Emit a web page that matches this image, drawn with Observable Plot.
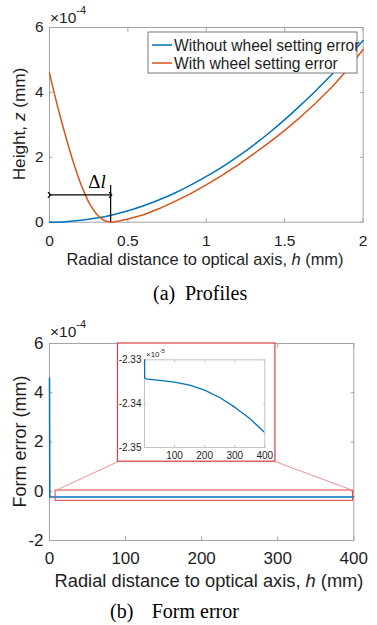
<!DOCTYPE html>
<html>
<head>
<meta charset="utf-8">
<script src="https://cdn.jsdelivr.net/npm/d3@7"></script>
<script src="https://cdn.jsdelivr.net/npm/@observablehq/plot@0.6"></script>
<style>
html,body{margin:0;padding:0;background:#fff;}
#root{position:relative;width:377px;height:625px;overflow:hidden;background:#fff;}
.box{position:absolute;}
.box svg{display:block;}
</style>
</head>
<body>
<div id="root"></div>
<script>
// ---------------- DATA ----------------
// (a) Profiles — height z in units of 1e-4 mm vs radial distance h (mm)
const profileH = [0,0.1,0.2,0.3,0.4,0.5,0.6,0.7,0.8,0.9,1.0,1.1,1.2,1.3,1.4,1.5,1.6,1.7,1.8,1.9,2.0];
const withoutZ = [0,0.015,0.057,0.127,0.225,0.35,0.505,0.69,0.9,1.14,1.41,1.7,2.02,2.37,2.75,3.16,3.6,4.06,4.55,5.06,5.6];
const withH = [0,0.025,0.05,0.075,0.1,0.125,0.15,0.175,0.2,0.225,0.25,0.275,0.3,0.325,0.35,0.375,0.4,0.45,0.5,0.6,0.7,0.8,0.9,1.0,1.1,1.2,1.3,1.4,1.5,1.6,1.7,1.8,1.9,2.0];
const withZ = [4.6,4.08,3.6,3.14,2.7,2.28,1.88,1.51,1.17,0.88,0.62,0.42,0.25,0.13,0.05,0.012,0,0.045,0.1,0.23,0.42,0.64,0.88,1.15,1.44,1.76,2.1,2.45,2.83,3.24,3.68,4.16,4.7,5.32];
const profileXTicks = [0,0.5,1,1.5,2];
const profileYTicks = [0,2,4,6];
const legendLabels = ["Without wheel setting error","With wheel setting error"];
// Δl annotation (data units of panel a)
const deltaL = 0.39;
const deltaArrowZ = 0.84;
const deltaLineTop = 1.13;
const deltaTextPos = [0.25, 1.05];

// (b) Form error — in units of 1e-5 mm vs h (mm)
const formH   = [0, 0.4, 3, 10, 50, 100, 150, 200, 250, 300, 350, 400];
const formErr = [46, -2.3341, -2.3343, -2.3344, -2.3347, -2.3351, -2.3358, -2.3369, -2.3386, -2.3408, -2.3434, -2.3466];
const formXTicks = [0,100,200,300,400];
const formYTicks = [-2,0,2,4,6];
const insetXTicks = [100,200,300,400];
const insetYTicks = [-2.35,-2.34,-2.33];
// zoom rectangle and inset box, in panel-b units (h mm, error 1e-4 mm)
const zoomBox  = {x1: 8,  x2: 399, y1: -0.39, y2: 0.03};
const insetBox = {x1: 90, x2: 297, y1: 1.2,   y2: 6};

const captions = [["(a)","Profiles"],["(b)","Form error"]];

// ---------------- STYLE ----------------
const blue = "#0072BD", orange = "#D95319";
const gray = "#a3a3a3", ink = "#1e1e1e";
const redBox = "#e03c3c", redLink = "#ee8f8f";
const sans = "'Liberation Sans', Arial, Helvetica, sans-serif";
const serif = "'Liberation Serif', 'Times New Roman', serif";

function boxAxes({xt, yt, fmtX, fmtY, fs, padX, padY, tick = 3.5, stroke = gray}) {
  const t = {tickSize: -tick, tickFormat: () => "", label: null, stroke};
  return [
    Plot.frame({stroke}),
    Plot.axisX({...t, ticks: xt, anchor: "bottom"}),
    Plot.axisX({...t, ticks: xt, anchor: "top"}),
    Plot.axisY({...t, ticks: yt, anchor: "left"}),
    Plot.axisY({...t, ticks: yt, anchor: "right"}),
    Plot.axisX({ticks: xt, anchor: "bottom", tickSize: 0, tickPadding: padX, tickFormat: fmtX, label: null, fontSize: fs, fill: ink}),
    Plot.axisY({ticks: yt, anchor: "left", tickSize: 0, tickPadding: padY, tickFormat: fmtY, label: null, fontSize: fs, fill: ink})
  ];
}

const root = document.getElementById("root");
function place(node, left, top) {
  const d = document.createElement("div");
  d.className = "box";
  d.style.left = left + "px";
  d.style.top = top + "px";
  d.appendChild(node);
  root.appendChild(d);
  return node;
}

// ---------------- (a) Profiles ----------------
const plotA = Plot.plot({
  width: 377, height: 270,
  marginLeft: 49, marginRight: 14.4, marginTop: 27, marginBottom: 48.3,
  x: {domain: [0, 2]},
  y: {domain: [0, 6]},
  style: {fontFamily: sans, fontSize: "15.5px", color: ink, background: "transparent", overflow: "visible"},
  marks: [
    ...boxAxes({xt: profileXTicks, yt: profileYTicks, fmtX: d => String(d), fmtY: d => String(d), fs: 15.5, padX: 12.5, padY: 6}),
    Plot.line(profileH, {x: profileH, y: withoutZ, stroke: blue, strokeWidth: 1.5, curve: "monotone-x"}),
    Plot.line(withH, {x: withH, y: withZ, stroke: orange, strokeWidth: 1.5, curve: "linear"}),
    Plot.link([deltaL], {x1: 0, x2: deltaL, y1: deltaArrowZ, y2: deltaArrowZ, stroke: "#000", strokeWidth: 1.2, markerStart: "arrow", markerEnd: "arrow"}),
    Plot.ruleX([deltaL], {y1: 0, y2: deltaLineTop, stroke: "#000", strokeWidth: 1.2})
  ]
});
place(plotA, 0, 0);

// ---------------- (b) Form error ----------------
const plotB = Plot.plot({
  width: 377, height: 300,
  marginLeft: 49, marginRight: 23.7, marginTop: 43, marginBottom: 60,
  x: {domain: [0, 400]},
  y: {domain: [-2, 6]},
  style: {fontFamily: sans, fontSize: "17px", color: ink, background: "transparent", overflow: "visible"},
  marks: [
    ...boxAxes({xt: formXTicks, yt: formYTicks, fmtX: d => String(d), fmtY: d => String(d), fs: 17, padX: 11.5, padY: 6}),
    Plot.line(formH, {x: formH, y: formErr.map(v => v / 10), stroke: blue, strokeWidth: 1.5}),
    Plot.rect([zoomBox], {x1: "x1", x2: "x2", y1: "y1", y2: "y2", fill: "none", stroke: redBox, strokeWidth: 1}),
    Plot.link([zoomBox], {x1: "x1", y1: "y2", x2: () => insetBox.x1, y2: () => insetBox.y1, stroke: redLink, strokeWidth: 1}),
    Plot.link([zoomBox], {x1: "x2", y1: "y2", x2: () => insetBox.x2, y2: () => insetBox.y1, stroke: redLink, strokeWidth: 1}),
    Plot.rect([insetBox], {x1: "x1", x2: "x2", y1: "y1", y2: "y2", fill: "#fff", stroke: redBox, strokeWidth: 1.2})
  ]
});
place(plotB, 0, 300);

// ---------------- inset ----------------
const plotC = Plot.plot({
  width: 172, height: 120,
  marginLeft: 48, marginRight: 3.7, marginTop: 14.3, marginBottom: 18,
  x: {domain: [0, 400]},
  y: {domain: [-2.35, -2.33]},
  style: {fontFamily: sans, fontSize: "10px", color: ink, background: "transparent", overflow: "visible"},
  marks: [
    ...boxAxes({xt: insetXTicks, yt: insetYTicks, fmtX: d => String(d), fmtY: d => d.toFixed(2), fs: 10, padX: 4, padY: 3, tick: 2, stroke: "#c4c4c4"}),
    Plot.line(formH, {x: formH, y: formErr, stroke: blue, strokeWidth: 1.3, clip: true})
  ]
});
place(plotC, 96, 345);

// ---------------- overlay texts ----------------
const svg = d3.create("svg").attr("width", 377).attr("height", 625)
  .style("position", "absolute").style("left", "0px").style("top", "0px").style("pointer-events", "none");
root.appendChild(svg.node());

function addText(x, y, parts, {size, family = sans, anchor = "start", rotate = 0, fill = ink}) {
  const t = svg.append("text")
    .attr("transform", `translate(${x},${y}) rotate(${rotate})`)
    .attr("text-anchor", anchor).attr("font-size", size)
    .attr("font-family", family).attr("fill", fill);
  for (const p of parts) {
    const s = t.append("tspan").text(p.t);
    if (p.italic) s.attr("font-style", "italic");
    if (p.dy != null) s.attr("dy", p.dy);
    if (p.size) s.attr("font-size", p.size);
    if (p.x != null) s.attr("x", p.x);
  }
  return t;
}

// legend
const lg = svg.append("g");
lg.append("rect").attr("x", 148).attr("y", 32).attr("width", 209).attr("height", 41)
  .attr("fill", "#fff").attr("stroke", "#6a6a6a").attr("stroke-width", 0.9);
[[blue, 45, 50.7], [orange, 63, 69]].forEach(([c, ly, by], i) => {
  lg.append("line").attr("x1", 152).attr("x2", 172).attr("y1", ly).attr("y2", ly).attr("stroke", c).attr("stroke-width", 1.5);
  addText(174, by, [{t: legendLabels[i]}], {size: 15.6});
});

// panel a titles
addText(50, 23, [{t: "×10"}, {t: "-4", dy: -9, size: 11}], {size: 15.5});
addText(205, 264.7, [{t: "Radial distance to optical axis, "}, {t: "h", italic: true}, {t: " (mm)"}], {size: 16.4, anchor: "middle"});
addText(24.5, 124, [{t: "Height, "}, {t: "z", italic: true}, {t: " (mm)"}], {size: 17.2, anchor: "middle", rotate: -90});
// Δl label positioned through the plot's scales
const sxA = plotA.scale("x"), syA = plotA.scale("y");
addText(sxA.apply(deltaTextPos[0]), syA.apply(deltaTextPos[1]), [{t: "Δ"}, {t: "l", italic: true}], {size: 19, family: serif, fill: "#000"});

// panel b titles
addText(50, 337, [{t: "×10"}, {t: "-4", dy: -9, size: 11}], {size: 15.5});
addText(209, 586.7, [{t: "Radial distance to optical axis, "}, {t: "h", italic: true}, {t: " (mm)"}], {size: 18.3, anchor: "middle"});
addText(25.5, 441.5, [{t: "Form error (mm)"}], {size: 18, anchor: "middle", rotate: -90});
// inset exponent
addText(146, 357, [{t: "×10"}, {t: "-5", dy: -4, size: 6}], {size: 8});

// captions
addText(153, 300, [{t: captions[0][0]}, {t: captions[0][1], x: 32}], {size: 20, family: serif, fill: "#000"});
addText(110, 618, [{t: captions[1][0]}, {t: captions[1][1], x: 41.7}], {size: 20, family: serif, fill: "#000"});
</script>
</body>
</html>
